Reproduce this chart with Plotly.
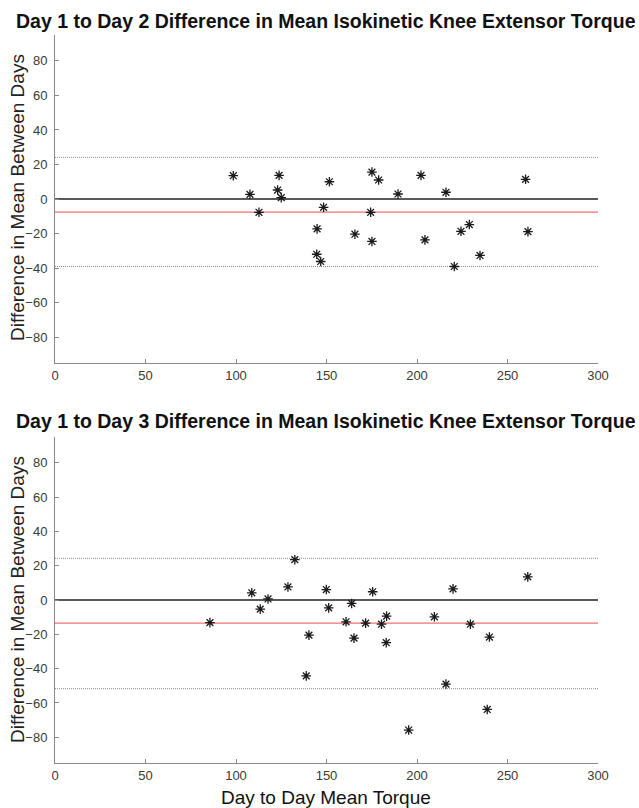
import plotly.graph_objects as go

# Day 1 vs Day 2
mean12 = [98.5, 107.7, 112.7, 123.8, 123.0, 125.0, 151.6, 148.4, 144.8, 165.7, 144.6, 146.8,
          175.1, 178.8, 174.4, 175.1, 189.5, 202.2, 204.4, 216.0, 228.9, 224.3, 220.6, 234.8,
          260.0, 261.3]
diff12 = [13.5, 2.7, -7.7, 13.7, 5.2, 0.8, 10.0, -4.8, -17.3, -20.4, -32.0, -36.2,
          15.6, 11.0, -7.7, -24.6, 2.9, 13.7, -23.7, 3.9, -14.8, -18.7, -39.1, -32.7,
          11.4, -18.9]
bias12, upper12, lower12 = -7.6, 24.1, -39.1

# Day 1 vs Day 3
mean13 = [85.6, 108.7, 113.4, 117.7, 128.7, 132.5, 140.3, 138.8, 149.9, 151.2, 163.9, 160.8,
          165.2, 171.6, 175.5, 180.4, 183.2, 183.0, 195.4, 209.6, 216.0, 219.9, 229.5, 240.0,
          238.8, 261.2]
diff13 = [-13.2, 4.2, -5.3, 0.6, 7.6, 23.5, -20.5, -44.2, 6.1, -4.6, -2.0, -12.7,
          -22.2, -13.5, 4.8, -14.1, -9.4, -24.9, -75.8, -9.8, -49.0, 6.5, -14.1, -21.6,
          -63.8, 13.5]
bias13, upper13, lower13 = -13.5, 24.3, -51.7

titles = ["Day 1 to Day 2 Difference in Mean Isokinetic Knee Extensor Torque",
          "Day 1 to Day 3 Difference in Mean Isokinetic Knee Extensor Torque"]
x_title = "Day to Day Mean Torque"
y_title = "Difference in Mean Between Days"
x_ticks = [0, 50, 100, 150, 200, 250, 300]
y_ticks = [-80, -60, -40, -20, 0, 20, 40, 60, 80]
x_line = [0, 300]

W, H = 639, 808
FONT = "Liberation Sans, Arial, sans-serif"

fig = go.Figure()

panels = [
    (mean12, diff12, bias12, upper12, lower12, "x", "y"),
    (mean13, diff13, bias13, upper13, lower13, "x2", "y2"),
]
for mx, dy, b, u, l, xa, ya in panels:
    for val, col, dash, wd in [(u, "#8c8c8c", "1px,1px", 1), (l, "#8c8c8c", "1px,1px", 1),
                                (0, "#222222", "solid", 1.6), (b, "#f07070", "solid", 1.3)]:
        fig.add_trace(go.Scatter(x=x_line, y=[val, val], mode="lines",
                                 line=dict(color=col, dash=dash, width=wd),
                                 xaxis=xa, yaxis=ya, showlegend=False, hoverinfo="skip"))
    fig.add_trace(go.Scatter(x=mx, y=dy, mode="markers",
                             marker=dict(symbol="asterisk-open", size=8, color="#1a1a1a",
                                         line=dict(color="#1a1a1a", width=1.3)),
                             xaxis=xa, yaxis=ya, showlegend=False))

xdom = [55 / W, 598 / W]
ydom_top = [1 - 363 / H, 1 - 35 / H]
ydom_bot = [1 - 763 / H, 1 - 437 / H]

axis_common = dict(showgrid=False, zeroline=False, showline=True, linecolor="#8a8a8a",
                   linewidth=1, ticks="inside", ticklen=4, tickcolor="#8a8a8a",
                   automargin=False,
                   tickfont=dict(family=FONT, size=13, color="#3a3a3a"), mirror=False)

fig.update_layout(
    width=W, height=H, autosize=False,
    margin=dict(l=0, r=0, t=0, b=0),
    plot_bgcolor="white", paper_bgcolor="white",
    xaxis=dict(domain=xdom, range=[0, 300], tickvals=x_ticks, anchor="y", **axis_common),
    yaxis=dict(domain=ydom_top, range=[-95, 95], tickvals=y_ticks, anchor="x",
               ticklabelstandoff=4, **axis_common),
    xaxis2=dict(domain=xdom, range=[0, 300], tickvals=x_ticks, anchor="y2", **axis_common),
    yaxis2=dict(domain=ydom_bot, range=[-95, 95], tickvals=y_ticks, anchor="x2",
                ticklabelstandoff=4, **axis_common),
)

cx = (xdom[0] + xdom[1]) / 2
annots = [
    dict(text="<b>" + titles[0] + "</b>", x=cx, y=1 - 21 / H, size=19.5),
    dict(text="<b>" + titles[1] + "</b>", x=cx, y=1 - 421 / H, size=19.5),
    dict(text=x_title, x=cx, y=1 - 797 / H, size=19),
]
for a in annots:
    sz = a.pop("size")
    fig.add_annotation(xref="paper", yref="paper", showarrow=False,
                       xanchor="center", yanchor="middle",
                       font=dict(family=FONT, size=sz, color="#111111"), **a)
for yc in [198, 600]:
    fig.add_annotation(xref="paper", yref="paper", showarrow=False, textangle=-90,
                       x=17 / W, y=1 - yc / H, xanchor="center", yanchor="middle",
                       text=y_title, font=dict(family=FONT, size=19, color="#222222"))

fig.write_html("out.html",
               config={"responsive": False, "displayModeBar": False},
               post_script=("document.documentElement.style.overflow='hidden';"
                            "document.body.style.overflow='hidden';"
                            "document.body.style.margin='0';document.body.style.padding='0';"))
